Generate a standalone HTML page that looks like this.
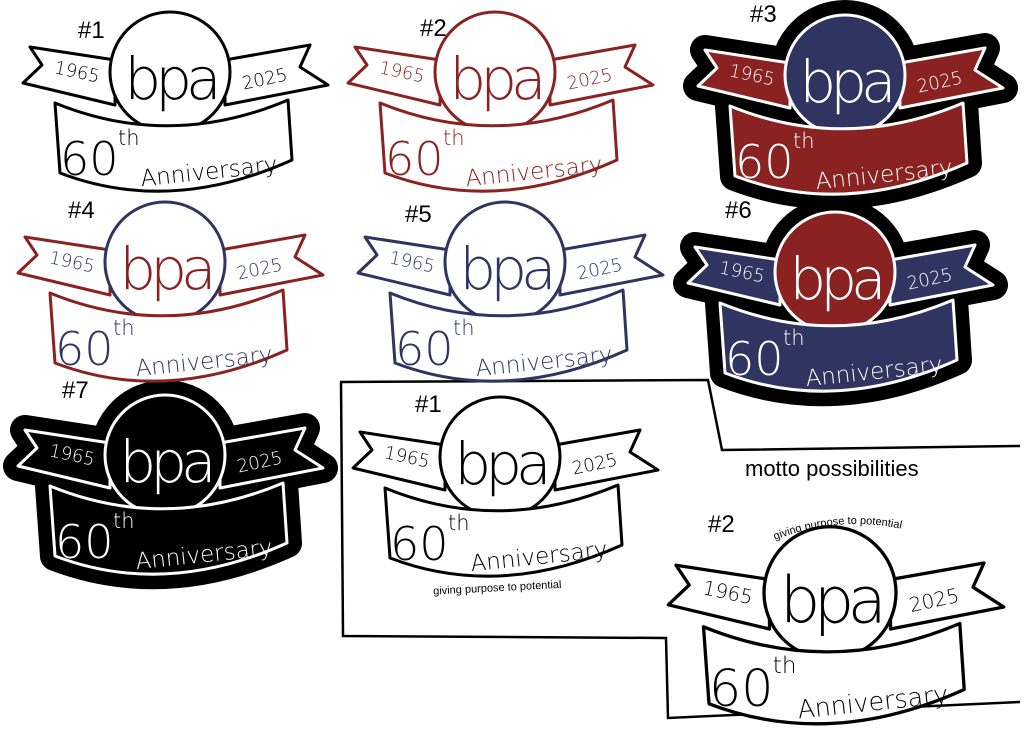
<!DOCTYPE html>
<html><head><meta charset="utf-8"><style>
html,body{margin:0;padding:0;background:#fff}
svg{display:block}
text{font-family:"Liberation Sans",sans-serif}
.bd text{font-family:"DejaVu Sans","Liberation Sans",sans-serif;font-weight:200}
.bd path,.bd circle{stroke:var(--s);stroke-width:3;stroke-linejoin:round}
.bd .r{fill:var(--rf)}
.bd .c{fill:var(--cf);stroke:var(--cs,var(--s))}
.bd .n{fill:var(--nf)}
.bd .tr{fill:var(--rt)}
.bd .tb{fill:var(--bt)}
.bd .tn{fill:var(--nt)}
.blob path,.blob circle{fill:#000;stroke:#000;stroke-width:30;stroke-linejoin:round}
</style></head><body>
<svg width="1024" height="732" viewBox="0 0 1024 732" xmlns="http://www.w3.org/2000/svg">
<rect width="1024" height="732" fill="#fff"/>
<path d="M340,382 L708,380 L722,450 L1020,446 M341,382 L343,636 L666,638 L668,718 L1020,702" fill="none" stroke="#000" stroke-width="2.5"/>

<g class="blob" transform="translate(695,18)">
<path d="M10,32 L95,45 L95,90 L3,68 L22,50 Z"/><path d="M290,30 L205,45 L205,90 L308,70 L280,52 Z"/><circle cx="150" cy="57" r="60"/><path d="M35,88 Q150,135 268,85 L272,145 Q150,200 40,158 Z"/></g>
<g class="blob" transform="translate(685,215)">
<path d="M10,32 L95,45 L95,90 L3,68 L22,50 Z"/><path d="M290,30 L205,45 L205,90 L308,70 L280,52 Z"/><circle cx="150" cy="57" r="60"/><path d="M35,88 Q150,135 268,85 L272,145 Q150,200 40,158 Z"/></g>
<g class="blob" transform="translate(15,398)">
<path d="M10,32 L95,45 L95,90 L3,68 L22,50 Z"/><path d="M290,30 L205,45 L205,90 L308,70 L280,52 Z"/><circle cx="150" cy="57" r="60"/><path d="M35,88 Q150,135 268,85 L272,145 Q150,200 40,158 Z"/></g>

<g font-size="24" fill="#000" font-family="Liberation Sans">
<text x="78" y="38">#1</text><text x="420" y="36">#2</text><text x="750" y="22">#3</text>
<text x="68" y="218">#4</text><text x="405" y="222">#5</text><text x="725" y="218">#6</text>
<text x="62" y="398">#7</text><text x="415" y="412">#1</text><text x="708" y="532">#2</text>
<text x="745" y="476" font-size="22">motto possibilities</text>
<text x="433" y="590" font-size="11" transform="rotate(-3 520 586)">giving purpose to potential</text>
</g>
<path id="arc" d="M775,540 Q855,508 940,540" fill="none"/>
<text font-size="11" fill="#000" font-family="Liberation Sans"><textPath href="#arc">giving purpose to potential</textPath></text>

<g class="bd" style="--s:#000;--rf:#fff;--cf:#fff;--nf:#fff;--rt:#000;--bt:#000;--nt:#000" transform="translate(20,15)">
<path class="r" d="M10,32 L95,45 L95,90 L3,68 L22,50 Z"/><path class="r" d="M290,30 L205,45 L205,90 L308,70 L280,52 Z"/>
<circle class="c" cx="150" cy="57" r="60"/><path class="n" d="M35,88 Q150,135 268,85 L272,145 Q150,200 40,158 Z"/>
<text class="tr" x="33" y="62" font-size="18" transform="rotate(12 52 62)">1965</text><text class="tr" x="222" y="70" font-size="18" transform="rotate(-12 245 65)">2025</text>
<text class="tb" x="150" y="84" font-size="58" text-anchor="middle" letter-spacing="-6">bpa</text>
<text class="tn" x="40" y="160" font-size="46">60</text><text class="tn" x="98" y="130" font-size="21">th</text><text class="tn" x="120" y="164" font-size="23" transform="rotate(-6 190 155)">Anniversary</text></g>

<g class="bd" style="--s:#8b2222;--rf:#fff;--cf:#fff;--nf:#fff;--rt:#8b2222;--bt:#8b2222;--nt:#8b2222" transform="translate(345,15)">
<path class="r" d="M10,32 L95,45 L95,90 L3,68 L22,50 Z"/><path class="r" d="M290,30 L205,45 L205,90 L308,70 L280,52 Z"/>
<circle class="c" cx="150" cy="57" r="60"/><path class="n" d="M35,88 Q150,135 268,85 L272,145 Q150,200 40,158 Z"/>
<text class="tr" x="33" y="62" font-size="18" transform="rotate(12 52 62)">1965</text><text class="tr" x="222" y="70" font-size="18" transform="rotate(-12 245 65)">2025</text>
<text class="tb" x="150" y="84" font-size="58" text-anchor="middle" letter-spacing="-6">bpa</text>
<text class="tn" x="40" y="160" font-size="46">60</text><text class="tn" x="98" y="130" font-size="21">th</text><text class="tn" x="120" y="164" font-size="23" transform="rotate(-6 190 155)">Anniversary</text></g>

<g class="bd" style="--s:#fff;--rf:#8b2222;--cf:#2f3560;--nf:#8b2222;--rt:#fff;--bt:#fff;--nt:#fff" transform="translate(695,18)">
<path class="r" d="M10,32 L95,45 L95,90 L3,68 L22,50 Z"/><path class="r" d="M290,30 L205,45 L205,90 L308,70 L280,52 Z"/>
<circle class="c" cx="150" cy="57" r="60"/><path class="n" d="M35,88 Q150,135 268,85 L272,145 Q150,200 40,158 Z"/>
<text class="tr" x="33" y="62" font-size="18" transform="rotate(12 52 62)">1965</text><text class="tr" x="222" y="70" font-size="18" transform="rotate(-12 245 65)">2025</text>
<text class="tb" x="150" y="84" font-size="58" text-anchor="middle" letter-spacing="-6">bpa</text>
<text class="tn" x="40" y="160" font-size="46">60</text><text class="tn" x="98" y="130" font-size="21">th</text><text class="tn" x="120" y="164" font-size="23" transform="rotate(-6 190 155)">Anniversary</text></g>

<g class="bd" style="--s:#8b2222;--cs:#2f3560;--rf:#fff;--cf:#fff;--nf:#fff;--rt:#2f3560;--bt:#8b2222;--nt:#2f3560" transform="translate(15,205)">
<path class="r" d="M10,32 L95,45 L95,90 L3,68 L22,50 Z"/><path class="r" d="M290,30 L205,45 L205,90 L308,70 L280,52 Z"/>
<circle class="c" cx="150" cy="57" r="60"/><path class="n" d="M35,88 Q150,135 268,85 L272,145 Q150,200 40,158 Z"/>
<text class="tr" x="33" y="62" font-size="18" transform="rotate(12 52 62)">1965</text><text class="tr" x="222" y="70" font-size="18" transform="rotate(-12 245 65)">2025</text>
<text class="tb" x="150" y="84" font-size="58" text-anchor="middle" letter-spacing="-6">bpa</text>
<text class="tn" x="40" y="160" font-size="46">60</text><text class="tn" x="98" y="130" font-size="21">th</text><text class="tn" x="120" y="164" font-size="23" transform="rotate(-6 190 155)">Anniversary</text></g>

<g class="bd" style="--s:#2f3560;--rf:#fff;--cf:#fff;--nf:#fff;--rt:#2f3560;--bt:#2f3560;--nt:#2f3560" transform="translate(355,205)">
<path class="r" d="M10,32 L95,45 L95,90 L3,68 L22,50 Z"/><path class="r" d="M290,30 L205,45 L205,90 L308,70 L280,52 Z"/>
<circle class="c" cx="150" cy="57" r="60"/><path class="n" d="M35,88 Q150,135 268,85 L272,145 Q150,200 40,158 Z"/>
<text class="tr" x="33" y="62" font-size="18" transform="rotate(12 52 62)">1965</text><text class="tr" x="222" y="70" font-size="18" transform="rotate(-12 245 65)">2025</text>
<text class="tb" x="150" y="84" font-size="58" text-anchor="middle" letter-spacing="-6">bpa</text>
<text class="tn" x="40" y="160" font-size="46">60</text><text class="tn" x="98" y="130" font-size="21">th</text><text class="tn" x="120" y="164" font-size="23" transform="rotate(-6 190 155)">Anniversary</text></g>

<g class="bd" style="--s:#fff;--rf:#2f3560;--cf:#8b2222;--nf:#2f3560;--rt:#fff;--bt:#fff;--nt:#fff" transform="translate(685,215)">
<path class="r" d="M10,32 L95,45 L95,90 L3,68 L22,50 Z"/><path class="r" d="M290,30 L205,45 L205,90 L308,70 L280,52 Z"/>
<circle class="c" cx="150" cy="57" r="60"/><path class="n" d="M35,88 Q150,135 268,85 L272,145 Q150,200 40,158 Z"/>
<text class="tr" x="33" y="62" font-size="18" transform="rotate(12 52 62)">1965</text><text class="tr" x="222" y="70" font-size="18" transform="rotate(-12 245 65)">2025</text>
<text class="tb" x="150" y="84" font-size="58" text-anchor="middle" letter-spacing="-6">bpa</text>
<text class="tn" x="40" y="160" font-size="46">60</text><text class="tn" x="98" y="130" font-size="21">th</text><text class="tn" x="120" y="164" font-size="23" transform="rotate(-6 190 155)">Anniversary</text></g>

<g class="bd" style="--s:#fff;--rf:#000;--cf:#000;--nf:#000;--rt:#fff;--bt:#fff;--nt:#fff" transform="translate(15,398)">
<path class="r" d="M10,32 L95,45 L95,90 L3,68 L22,50 Z"/><path class="r" d="M290,30 L205,45 L205,90 L308,70 L280,52 Z"/>
<circle class="c" cx="150" cy="57" r="60"/><path class="n" d="M35,88 Q150,135 268,85 L272,145 Q150,200 40,158 Z"/>
<text class="tr" x="33" y="62" font-size="18" transform="rotate(12 52 62)">1965</text><text class="tr" x="222" y="70" font-size="18" transform="rotate(-12 245 65)">2025</text>
<text class="tb" x="150" y="84" font-size="58" text-anchor="middle" letter-spacing="-6">bpa</text>
<text class="tn" x="40" y="160" font-size="46">60</text><text class="tn" x="98" y="130" font-size="21">th</text><text class="tn" x="120" y="164" font-size="23" transform="rotate(-6 190 155)">Anniversary</text></g>

<g class="bd" style="--s:#000;--rf:#fff;--cf:#fff;--nf:#fff;--rt:#000;--bt:#000;--nt:#000" transform="translate(350,400)">
<path class="r" d="M10,32 L95,45 L95,90 L3,68 L22,50 Z"/><path class="r" d="M290,30 L205,45 L205,90 L308,70 L280,52 Z"/>
<circle class="c" cx="150" cy="57" r="60"/><path class="n" d="M35,88 Q150,135 268,85 L272,145 Q150,200 40,158 Z"/>
<text class="tr" x="33" y="62" font-size="18" transform="rotate(12 52 62)">1965</text><text class="tr" x="222" y="70" font-size="18" transform="rotate(-12 245 65)">2025</text>
<text class="tb" x="150" y="84" font-size="58" text-anchor="middle" letter-spacing="-6">bpa</text>
<text class="tn" x="40" y="160" font-size="46">60</text><text class="tn" x="98" y="130" font-size="21">th</text><text class="tn" x="120" y="164" font-size="23" transform="rotate(-6 190 155)">Anniversary</text></g>

<g class="bd" style="--s:#000;--rf:#fff;--cf:#fff;--nf:#fff;--rt:#000;--bt:#000;--nt:#000" transform="translate(665,530) scale(1.1)">
<path class="r" d="M10,32 L95,45 L95,90 L3,68 L22,50 Z"/><path class="r" d="M290,30 L205,45 L205,90 L308,70 L280,52 Z"/>
<circle class="c" cx="150" cy="57" r="60"/><path class="n" d="M35,88 Q150,135 268,85 L272,145 Q150,200 40,158 Z"/>
<text class="tr" x="33" y="62" font-size="18" transform="rotate(12 52 62)">1965</text><text class="tr" x="222" y="70" font-size="18" transform="rotate(-12 245 65)">2025</text>
<text class="tb" x="150" y="84" font-size="58" text-anchor="middle" letter-spacing="-6">bpa</text>
<text class="tn" x="40" y="160" font-size="46">60</text><text class="tn" x="98" y="130" font-size="21">th</text><text class="tn" x="120" y="164" font-size="23" transform="rotate(-6 190 155)">Anniversary</text></g>
</svg>
</body></html>
